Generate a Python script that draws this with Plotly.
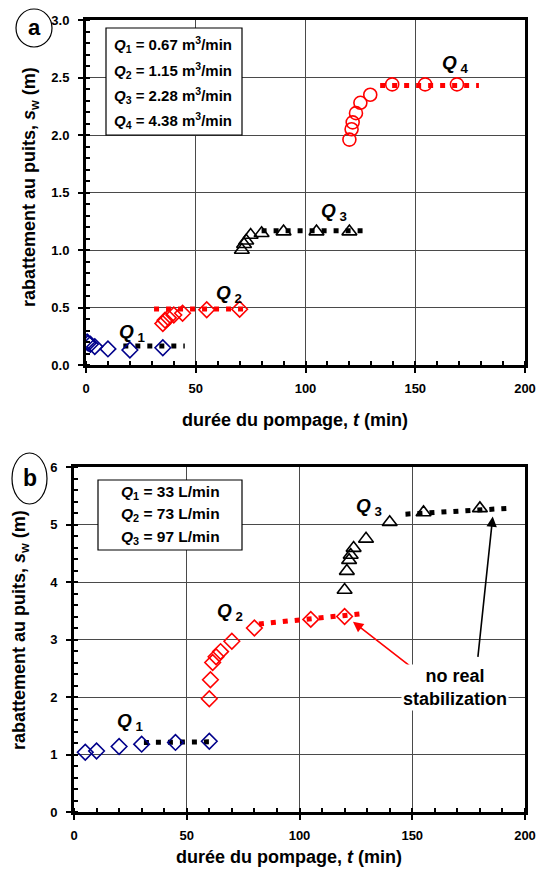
import plotly.graph_objects as go

# the page body keeps an 8px margin: the figure fills the rest of the 544x877 window
OFF = 8
W, H = 544 - 2 * OFF, 877 - 2 * OFF

# ---------------- data: panel a ----------------
a_q1_t = [0.5, 1, 2, 4, 10, 20, 35]
a_q1_s = [0.20, 0.19, 0.18, 0.16, 0.14, 0.13, 0.15]
a_q2_t = [35, 36, 37.5, 40, 44, 55, 70]
a_q2_s = [0.36, 0.39, 0.41, 0.435, 0.45, 0.48, 0.485]
a_q3_t = [71, 72, 73, 75, 80, 90, 105, 120]
a_q3_s = [1.00, 1.05, 1.08, 1.13, 1.145, 1.16, 1.16, 1.16]
a_q4_t = [120, 121, 121.5, 123, 125, 129.5, 139.5, 154.5, 169]
a_q4_s = [1.96, 2.05, 2.11, 2.19, 2.28, 2.35, 2.44, 2.44, 2.44]
a_fit1_t, a_fit1_s = [17, 45], [0.165, 0.165]
a_fit2_t, a_fit2_s = [31, 74], [0.487, 0.487]
a_fit3_t, a_fit3_s = [80, 126], [1.168, 1.168]
a_fit4_t, a_fit4_s = [134, 179], [2.43, 2.43]
a_legend = ["<i>Q</i><sub>1</sub> = 0.67 m<sup>3</sup>/min",
            "<i>Q</i><sub>2</sub> = 1.15 m<sup>3</sup>/min",
            "<i>Q</i><sub>3</sub> = 2.28 m<sup>3</sup>/min",
            "<i>Q</i><sub>4</sub> = 4.38 m<sup>3</sup>/min"]

# ---------------- data: panel b ----------------
b_q1_t = [5, 10, 20, 30, 45, 60]
b_q1_s = [1.04, 1.06, 1.14, 1.18, 1.21, 1.23]
b_q2_t = [60, 60.5, 61.5, 63, 65, 70, 80, 105, 120]
b_q2_s = [1.97, 2.30, 2.60, 2.70, 2.79, 2.97, 3.20, 3.35, 3.40]
b_q3_t = [120, 121, 122, 122.7, 124, 129.5, 140, 155, 180]
b_q3_s = [3.86, 4.19, 4.38, 4.47, 4.59, 4.75, 5.04, 5.21, 5.28]
b_fit1_t, b_fit1_s = [31, 60], [1.21, 1.22]
b_fit2_t, b_fit2_s = [82, 128], [3.27, 3.45]
b_fit3_t, b_fit3_s = [147, 192], [5.18, 5.28]
b_legend = ["<i>Q</i><sub>1</sub> = 33 L/min",
            "<i>Q</i><sub>2</sub> = 73 L/min",
            "<i>Q</i><sub>3</sub> = 97 L/min"]

x_title = "durée du pompage, <i>t</i> (min)"
y_title = "rabattement au puits, <i>s</i><sub>w</sub> (m)"
note = "no real<br>stabilization"

FONT = "Liberation Sans, Arial, sans-serif"
BLUE = "#00008B"
RED = "#FF0000"
BLACK = "#000000"
GRID = "#4a4a4a"


def px(x):
    return (x - OFF) / W


def py(y):
    return 1 - (y - OFF) / H


fig = go.Figure()


def fit(t, s, color, xa, ya):
    fig.add_trace(go.Scatter(x=t, y=s, mode="lines", xaxis=xa, yaxis=ya,
                             line=dict(color=color, width=5, dash="5px,7px"),
                             showlegend=False, hoverinfo="skip"))


def pts(t, s, color, symbol, size, xa, ya):
    fig.add_trace(go.Scatter(x=t, y=s, mode="markers", xaxis=xa, yaxis=ya,
                             marker=dict(symbol=symbol, size=size, color=color,
                                         line=dict(color=color, width=1.6)),
                             showlegend=False))


# panel a
fit(a_fit1_t, a_fit1_s, BLACK, "x", "y")
fit(a_fit2_t, a_fit2_s, RED, "x", "y")
fit(a_fit3_t, a_fit3_s, BLACK, "x", "y")
fit(a_fit4_t, a_fit4_s, RED, "x", "y")
pts(a_q1_t, a_q1_s, BLUE, "diamond-open", 12, "x", "y")
pts(a_q2_t, a_q2_s, RED, "diamond-open", 12, "x", "y")
pts(a_q3_t, a_q3_s, BLACK, "triangle-up-open", 13, "x", "y")
pts(a_q4_t, a_q4_s, RED, "circle-open", 13, "x", "y")

# panel b
fit(b_fit1_t, b_fit1_s, BLACK, "x2", "y2")
fit(b_fit2_t, b_fit2_s, RED, "x2", "y2")
fit(b_fit3_t, b_fit3_s, BLACK, "x2", "y2")
pts(b_q1_t, b_q1_s, BLUE, "diamond-open", 12, "x2", "y2")
pts(b_q2_t, b_q2_s, RED, "diamond-open", 12, "x2", "y2")
pts(b_q3_t, b_q3_s, BLACK, "triangle-up-open", 13, "x2", "y2")

tickfont = dict(family=FONT, size=13, color="black", weight="bold")


def xaxis(domain, anchor):
    return dict(domain=domain, anchor=anchor, range=[0, 200], dtick=50, tick0=0,
                showline=True, linecolor="black", linewidth=3, mirror=True,
                ticks="outside", ticklen=5, tickwidth=1.5, tickcolor="black",
                showgrid=True, gridcolor=GRID, gridwidth=1, zeroline=False,
                tickfont=tickfont, ticklabelstandoff=4,
                minor=dict(ticks="inside", ticklen=4, dtick=10, tickwidth=1.5,
                           tickcolor="black", showgrid=False))


def yaxis(domain, anchor, rng, dt, mdt, fmt):
    return dict(domain=domain, anchor=anchor, range=rng, dtick=dt, tick0=0,
                showline=True, linecolor="black", linewidth=3, mirror=True,
                ticks="outside", ticklen=5, tickwidth=1.5, tickcolor="black",
                showgrid=True, gridcolor=GRID, gridwidth=1, zeroline=False,
                tickfont=tickfont, tickformat=fmt, ticklabelstandoff=6,
                minor=dict(ticks="inside", ticklen=4, dtick=mdt, tickwidth=1.5,
                           tickcolor="black", showgrid=False))


fig.update_layout(
    width=W, height=H, margin=dict(l=0, r=0, t=0, b=0, autoexpand=False),
    paper_bgcolor="white", plot_bgcolor="white", showlegend=False,
    font=dict(family=FONT, color="black"),
    xaxis=xaxis([px(86), px(525)], "y"),
    yaxis=yaxis([py(365), py(20)], "x", [0, 3], 0.5, 0.1, ".1f"),
    xaxis2=xaxis([px(74), px(525)], "y2"),
    yaxis2=yaxis([py(812), py(467)], "x2", [0, 6], 1, 0.2, "d"),
)

ann = []
shapes = []
bold = dict(family=FONT, color="black", weight="bold")


def ptext(x, y, text, size, xanchor="center", angle=0, bg=None):
    d = dict(xref="paper", yref="paper", x=px(x), y=py(y), text=text,
             xanchor=xanchor, yanchor="middle", showarrow=False,
             textangle=angle, font=dict(bold, size=size))
    if bg:
        d["bgcolor"] = bg
    ann.append(d)


# axis titles
ptext(295, 420, x_title, 18)
ptext(289, 857, x_title, 18)
ptext(30, 187, y_title, 18, angle=-90)
ptext(20, 630, y_title, 18, angle=-90)

# panel labels
shapes.append(dict(type="circle", xref="paper", yref="paper",
                   x0=px(16), x1=px(52), y0=py(9), y1=py(47),
                   line=dict(color="black", width=1.2)))
ptext(34, 27, "a", 22)
shapes.append(dict(type="circle", xref="paper", yref="paper",
                   x0=px(12), x1=px(47), y0=py(453), y1=py(504),
                   line=dict(color="black", width=1.2)))
ptext(30, 478, "b", 23)

# legend boxes
shapes.append(dict(type="rect", xref="paper", yref="paper",
                   x0=px(106), x1=px(242), y0=py(28), y1=py(135),
                   fillcolor="white", line=dict(color="black", width=1.2), layer="above"))
for i, txt in enumerate(a_legend):
    ptext(112, 45 + 25.3 * i, txt, 15, xanchor="left")
shapes.append(dict(type="rect", xref="paper", yref="paper",
                   x0=px(98), x1=px(242), y0=py(480), y1=py(550),
                   fillcolor="white", line=dict(color="black", width=1.2), layer="above"))
for i, txt in enumerate(b_legend):
    ptext(170, 492 + 22.5 * i, txt, 15.5)


# series labels
def qlab(n, t, s, xr, yr):
    ann.append(dict(xref=xr, yref=yr, x=t, y=s, xanchor="center", yanchor="middle",
                    text="<i>Q</i><sub> %d</sub>" % n, showarrow=False,
                    font=dict(bold, size=19)))


qlab(1, 21, 0.28, "x", "y")
qlab(2, 65, 0.62, "x", "y")
qlab(3, 113, 1.33, "x", "y")
qlab(4, 168, 2.62, "x", "y")
qlab(1, 25, 1.57, "x2", "y2")
qlab(2, 69, 3.48, "x2", "y2")
qlab(3, 131, 5.30, "x2", "y2")

# arrows + note
ann.append(dict(xref="x2", yref="y2", x=123.7, y=3.31, ax=58, ay=45, text="",
                showarrow=True, arrowhead=2, arrowsize=1.3, arrowwidth=1.6,
                arrowcolor=RED))
ann.append(dict(xref="x2", yref="y2", x=185.7, y=5.14, ax=-15, ay=142, text="",
                showarrow=True, arrowhead=2, arrowsize=1.3, arrowwidth=1.6,
                arrowcolor=BLACK))
ptext(455, 687, note, 18, bg="white")

fig.update_layout(annotations=ann, shapes=shapes)
fig.write_html("out.html", config={"displayModeBar": False})
